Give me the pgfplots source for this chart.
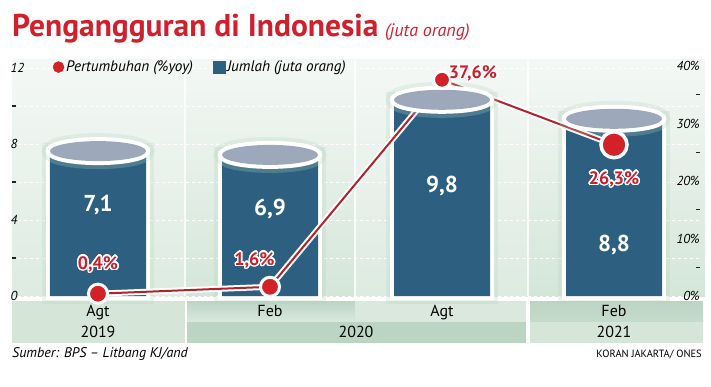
\documentclass[border=0pt]{standalone}
\usepackage{fontspec}
\setmainfont{PT Sans}
\usepackage{pgfplots}
\usepackage{pgfplotstable}
\pgfplotsset{compat=1.18}
\usetikzlibrary{backgrounds,calc}
\usepackage[copies]{contour}
\contourlength{1.4pt}
\contournumber{24}

\definecolor{tred}{HTML}{D0202E}
\definecolor{barblue}{HTML}{2D5F80}
\definecolor{capcol}{HTML}{9DA9BA}
\definecolor{ptred}{HTML}{D42027}
\definecolor{linered}{HTML}{B0232B}
\definecolor{lblred}{HTML}{C8202C}
\definecolor{panA}{HTML}{DDEBE1}
\definecolor{panB}{HTML}{D4E6D9}
\definecolor{panTop}{HTML}{F4F8F5}
\definecolor{glow}{HTML}{B5D3BE}
\definecolor{cellL}{HTML}{D5E6D9}
\definecolor{cellM}{HTML}{DBE8DE}
\definecolor{cellD}{HTML}{BCD5C3}
\definecolor{ticktext}{HTML}{222222}

\pgfdeclareplotmark{capstroke}{\pgfpathellipse{\pgfpointorigin}{\pgfqpoint{48pt}{0pt}}{\pgfqpoint{0pt}{10pt}}\pgfusepathqfillstroke}
\pgfdeclareplotmark{capfill}{\pgfpathellipse{\pgfpointorigin}{\pgfqpoint{48pt}{0pt}}{\pgfqpoint{0pt}{10pt}}\pgfusepathqfill}

% Jumlah (juta orang); ly = y position of value label
\pgfplotstableread{
x jumlah lab ly
0 7.1 {7,1} 4.8
1 6.9 {6,9} 4.6
2 9.8 {9,8} 5.8
3 8.8 {8,8} 2.7
}\jumlah

% Pertumbuhan (%yoy); lx, ly = label position (in %)
\pgfplotstableread{
x yoy lab lx ly
0 0.4 {0,4} 0 5.4
1 1.6 {1,6} 0.91 6.1
2 37.6 {37,6} 2.18 38.6
3 26.3 {26,3} 3 20.2
}\yoy

% percent -> left-axis units
\def\pf{0.30263}
\tikzset{rlab/.style={anchor=east, inner sep=0pt, font=\itshape\fontsize{13}{13}\selectfont}}

\begin{document}
\begin{tikzpicture}
\begin{axis}[
  name=main,
  scale only axis,
  width=688pt, height=236pt,
  xmin=-0.5, xmax=3.5, ymin=0, ymax=12.42,
  axis line style={draw=none},
  xtick={0,1,2,3}, xticklabels={Agt,Feb,Agt,Feb},
  xticklabel style={font=\fontsize{16}{16}\selectfont, yshift=-6pt},
  major x tick style={draw=none},
  ytick={0,4,8,12}, minor ytick={2,6,10},
  ytick pos=left,
  major y tick style={draw=none},
  minor y tick style={draw=ticktext, line width=1.2pt},
  minor tick length=4pt, tick align=inside,
  /pgf/number format/assume math mode=true,
  yticklabel style={font=\itshape\fontsize{13}{13}\selectfont, anchor=west, xshift=-5pt},
  ymajorgrids, yminorgrids,
  grid style={white, dashed, line width=0.8pt},
  clip=false,
  legend style={draw=none, fill=none, at={(0.055,0.97)}, anchor=west,
    legend columns=2, font=\itshape\fontsize{15.2}{15.2}\selectfont,
    /tikz/every even column/.append style={column sep=18pt},
    legend cell align=left},
]
\addlegendimage{only marks, mark=*, mark size=5.5pt, ptred}
\addlegendentry{Pertumbuhan (\%yoy)}
\addlegendimage{only marks, mark=square*, mark size=6pt, barblue}
\addlegendentry{Jumlah (juta orang)}

% soft glow around cylinders
\addplot[forget plot, ybar, bar shift=0pt, bar width=96pt, fill=glow, draw=glow, line width=16pt, opacity=0.25] table[x=x, y expr=\thisrow{jumlah}+0.526] {\jumlah};
\addplot[forget plot, only marks, mark=capstroke, mark options={fill=glow, draw=glow, line width=16pt, opacity=0.25}] table[x=x, y expr=\thisrow{jumlah}+0.526] {\jumlah};
% cylinders
\addplot[forget plot, ybar, bar shift=0pt, bar width=96pt, fill=white, draw=white, line width=8pt] table[x=x, y expr=\thisrow{jumlah}+0.526] {\jumlah};
\addplot[forget plot, only marks, mark=capstroke, mark options={fill=white, draw=white, line width=8pt}] table[x=x, y expr=\thisrow{jumlah}+0.526] {\jumlah};
\addplot[forget plot, ybar, bar shift=0pt, bar width=96pt, fill=barblue, draw=none] table[x=x, y expr=\thisrow{jumlah}+0.526] {\jumlah};
\addplot[forget plot, only marks, mark=capfill, mark options={fill=capcol, draw=none}] table[x=x, y expr=\thisrow{jumlah}+0.526] {\jumlah};
\addplot[forget plot, draw=none, mark=none, nodes near coords={\pgfplotspointmeta}, point meta=explicit symbolic,
  every node near coord/.append style={anchor=center, text=white, font=\bfseries\fontsize{23}{23}\selectfont}]
  table[x=x, y=ly, meta=lab] {\jumlah};

% growth line (right axis, percent)
\addplot[forget plot, white, line width=6pt] table[x=x, y expr=\thisrow{yoy}*\pf] {\yoy};
\addplot[forget plot, linered, line width=2pt] table[x=x, y expr=\thisrow{yoy}*\pf] {\yoy};
\addplot[forget plot, only marks, mark=*, mark size=9.5pt, mark options={fill=ptred, draw=white, line width=3pt},
  restrict x to domain=-1:1.5] table[x=x, y expr=\thisrow{yoy}*\pf] {\yoy};
\addplot[forget plot, only marks, mark=*, mark size=8.5pt, mark options={fill=ptred, draw=white, line width=3pt},
  restrict x to domain=1.5:2.5] table[x=x, y expr=\thisrow{yoy}*\pf] {\yoy};
\addplot[forget plot, only marks, mark=*, mark size=13pt, mark options={fill=ptred, draw=white, line width=3.5pt},
  restrict x to domain=2.5:4] table[x=x, y expr=\thisrow{yoy}*\pf] {\yoy};
\addplot[forget plot, draw=none, mark=none, nodes near coords={\contour{white}{\pgfplotspointmeta\%}}, point meta=explicit symbolic,
  every node near coord/.append style={anchor=center, text=lblred, font=\bfseries\fontsize{18}{18}\selectfont}]
  table[x=lx, y expr=\thisrow{ly}*\pf, meta=lab] {\yoy};

% right axis labels and dashes
\node[rlab] at (axis cs:3.5,0) {0\%};
\node[rlab] at (axis cs:3.5,3.0263) {10\%};
\node[rlab] at (axis cs:3.5,6.0526) {20\%};
\node[rlab] at (axis cs:3.5,9.0789) {30\%};
\node[rlab] at (axis cs:3.5,12.1052) {40\%};
\draw[ticktext, line width=1.2pt] (axis cs:3.5,1.5132) -- ++(-4pt,0pt);
\draw[ticktext, line width=1.2pt] (axis cs:3.5,4.5395) -- ++(-4pt,0pt);
\draw[ticktext, line width=1.2pt] (axis cs:3.5,7.5658) -- ++(-4pt,0pt);
\draw[ticktext, line width=1.2pt] (axis cs:3.5,10.592) -- ++(-4pt,0pt);
\coordinate (O) at (rel axis cs:0,0);
\end{axis}

\begin{scope}[shift={($(O)+(-12pt,-90pt)$)}, x=1pt, y=1pt]
\begin{scope}[on background layer]
% background panel
\shade[top color=panTop, bottom color=panA] (12,90) rectangle (185,326);
\shade[top color=panTop, bottom color=panB] (185,90) rectangle (355,326);
\shade[top color=panTop, bottom color=panA] (355,90) rectangle (528,326);
\shade[top color=panTop, bottom color=panB] (528,90) rectangle (705,326);
\draw[white, line width=1.2pt, opacity=0.8] (185,90) -- (185,326) (355,90) -- (355,326) (528,90) -- (528,326);
% category strip
\fill[cellL] (12,64) rectangle (185,85);
\fill[cellL] (12,43) rectangle (185,64);
\shade[top color=cellD, bottom color=cellM] (187,64) rectangle (355,85);
\fill[cellM] (355,64) rectangle (526,85);
\fill[cellD] (187,43) rectangle (526,64);
\shade[top color=cellD, bottom color=cellD!70!cellM] (530,64) rectangle (703,85);
\fill[cellL] (530,43) rectangle (703,64);
\end{scope}
\node[font=\fontsize{16}{16}\selectfont] at (98,54) {2019};
\node[font=\fontsize{16}{16}\selectfont] at (356,54) {2020};
\node[font=\fontsize{16}{16}\selectfont] at (614,54) {2021};
% title
\node[anchor=base west, inner sep=0pt, text=tred, font=\bfseries\fontsize{31.5}{31.5}\selectfont] at (12,349) {Pengangguran di Indonesia};
\node[anchor=base west, inner sep=0pt, text=tred, font=\itshape\fontsize{18}{18}\selectfont] at (385,349) {(juta orang)};
% footer
\node[anchor=west, inner sep=0pt, font=\itshape\fontsize{14}{14}\selectfont] at (12,32) {Sumber: BPS -- Litbang KJ/and};
\node[anchor=east, inner sep=0pt, font=\fontsize{10.5}{10.5}\selectfont] at (702,32) {KORAN JAKARTA/ ONES};
\pgfresetboundingbox
\path[use as bounding box] (0,0) rectangle (711,386);
\end{scope}
\end{tikzpicture}
\end{document}
